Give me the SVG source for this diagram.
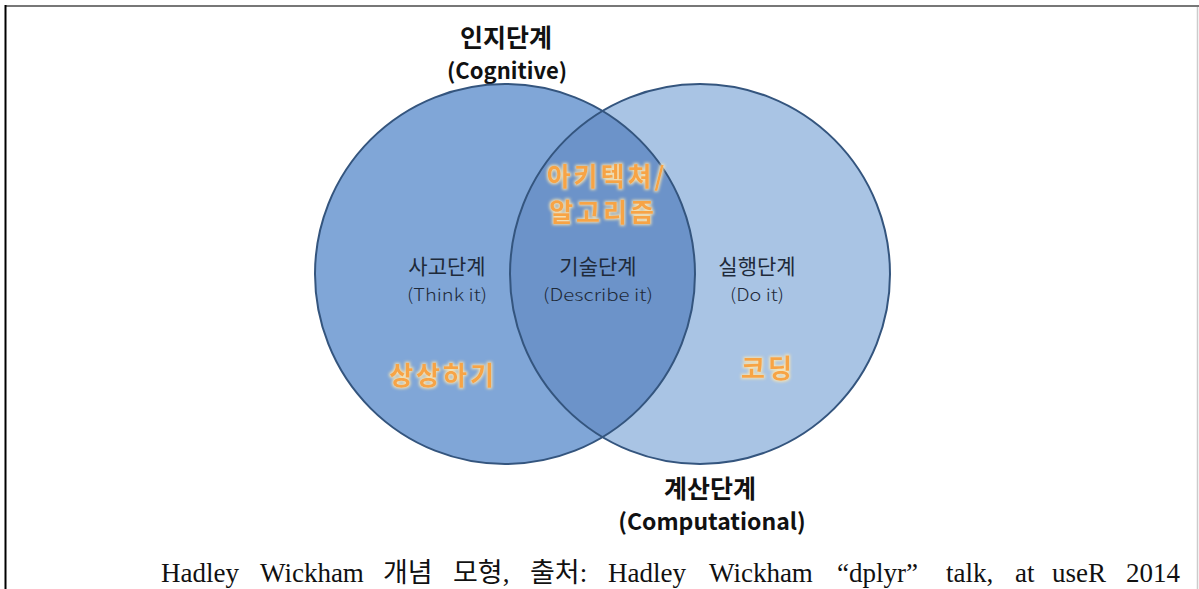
<svg xmlns="http://www.w3.org/2000/svg" width="1199" height="589" viewBox="0 0 1199 589">
<defs>
<style>
.circle{stroke:#34557e;stroke-width:2}
.title{font-family:"Malgun Gothic","Noto Sans CJK KR",sans-serif;font-weight:bold;fill:#111;text-anchor:middle}
.lbl{font-family:"Noto Sans CJK KR",sans-serif;fill:#1e2a3a;text-anchor:middle;font-size:21px}
.sub{font-family:"Noto Sans CJK KR",sans-serif;font-weight:300;fill:#1e2a3a;text-anchor:middle;font-size:17px}
.orange{font-family:"Noto Sans CJK KR",sans-serif;font-weight:bold;fill:#f7a445;text-anchor:middle;font-size:26px;letter-spacing:3px;filter:url(#glow)}
.cap{font-family:"Liberation Serif","Noto Sans CJK KR",serif;font-size:27px;fill:#111}
</style>
<filter id="glow" x="-20%" y="-40%" width="140%" height="180%">
<feMorphology in="SourceAlpha" operator="dilate" radius="1.2" result="d"/>
<feGaussianBlur in="d" stdDeviation="1.5" result="b"/>
<feFlood flood-color="#ffe8b0" flood-opacity="0.9"/>
<feComposite in2="b" operator="in" result="g"/>
<feMerge><feMergeNode in="g"/><feMergeNode in="SourceGraphic"/></feMerge>
</filter>
<clipPath id="clipL"><circle cx="505" cy="274" r="190"/></clipPath>
</defs>
<rect width="1199" height="589" fill="#fff"/>
<g id="frame">
<line x1="5" y1="6" x2="1199" y2="6" stroke="#777" stroke-width="2"/>
<line x1="5.5" y1="5" x2="5.5" y2="589" stroke="#000" stroke-width="2"/>
<line x1="1197.5" y1="7" x2="1197.5" y2="589" stroke="#ccc" stroke-width="1.5"/>
</g>
<g id="cognitive">
<circle cx="505" cy="274" r="190" fill="#80a6d7"/>
<text class="title" x="506" y="47" font-size="25">인지단계</text>
<text class="title" x="507" y="79" font-size="22">(Cognitive)</text>
<text class="lbl" x="447" y="274">사고단계</text>
<text class="sub" x="447" y="301" textLength="80" lengthAdjust="spacingAndGlyphs">(Think it)</text>
<text class="orange" x="443" y="385">상상하기</text>
</g>
<g id="computational">
<circle cx="700" cy="274" r="190" fill="#a9c4e4"/>
<text class="lbl" x="757" y="274">실행단계</text>
<text class="sub" x="757" y="301" textLength="54" lengthAdjust="spacingAndGlyphs">(Do it)</text>
<text class="orange" x="768" y="378">코딩</text>
<text class="title" x="710" y="498" font-size="25">계산단계</text>
<text class="title" x="712" y="530" font-size="23">(Computational)</text>
</g>
<g id="describe">
<circle cx="700" cy="274" r="190" fill="#6c93c9" clip-path="url(#clipL)"/>
<circle class="circle" cx="505" cy="274" r="190" fill="none"/>
<circle class="circle" cx="700" cy="274" r="190" fill="none"/>
<text class="orange" x="607" y="186">아키텍쳐/</text>
<text class="orange" x="603" y="222">알고리즘</text>
<text class="lbl" x="598" y="274">기술단계</text>
<text class="sub" x="598" y="301" textLength="110" lengthAdjust="spacingAndGlyphs">(Describe it)</text>
</g>
<g id="connectors"/>
<g id="caption">
<text class="cap" y="582"><tspan x="161">Hadley</tspan><tspan x="260">Wickham</tspan><tspan x="383">개념</tspan><tspan x="453">모형,</tspan><tspan x="530">출처:</tspan><tspan x="608">Hadley</tspan><tspan x="709">Wickham</tspan><tspan x="837">“dplyr”</tspan><tspan x="946">talk,</tspan><tspan x="1015">at</tspan><tspan x="1052">useR</tspan><tspan x="1126">2014</tspan></text>
</g>
</svg>
